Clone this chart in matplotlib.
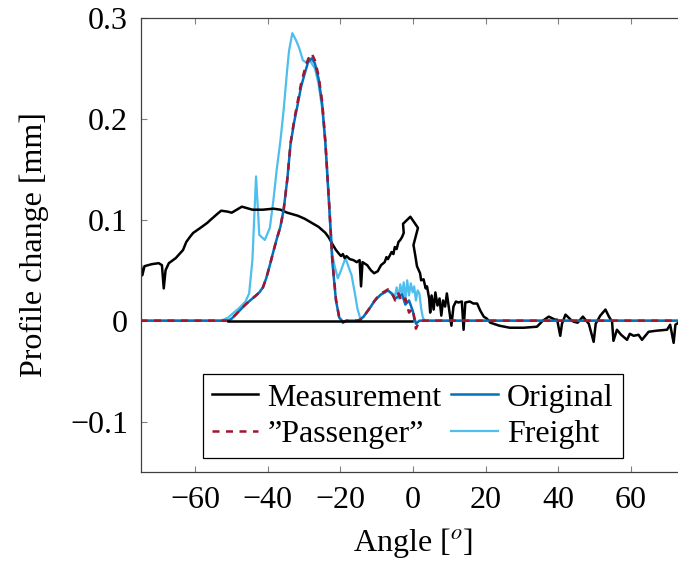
import matplotlib
matplotlib.use("Agg")
import matplotlib.pyplot as plt

plt.rcParams['font.family'] = ['Liberation Serif', 'DejaVu Serif']
plt.rcParams['mathtext.fontset'] = 'stix'
plt.rcParams['font.size'] = 23

# measured profile change
meas_angle = [-75, -74.5, -73.9, -71.9, -70.0, -69.1, -68.6, -68.1, -67.2, -65.3, -63.3,
              -62.4, -61.4, -60.5, -58.5, -56.6, -55.7, -53.8, -52.8, -50.9, -49.9,
              -48.0, -47.1, -46.1, -44.2, -41.3, -38.4, -36.5, -34.6, -31.7, -29.8,
              -27.9, -26.0, -24.1, -23.1, -22.2, -21.2, -20.3, -19.8, -19.3, -18.8,
              -18.3, -17.4, -16.4, -15.5, -14.7, -14.3, -13.9, -12.6, -11.6, -10.7,
              -9.7, -8.8, -7.8, -7.3, -6.9, -5.9, -5.4, -5.0, -4.5, -4.0, -3.5, -3.0,
              -2.55, -2.74, -0.73, 1.37, 0.13, 0.61, 1.09, 1.95, 2.24, 2.91, 3.48,
              3.86, 4.44, 4.73, 5.11, 5.68, 6.16, 6.74, 7.31, 7.79, 8.27, 8.84, 9.32,
              9.9, 10.57, 11.14, 11.81, 12.48, 13.44, 13.92, 14.4, 15.64, 16.6, 17.65,
              18.51, 19.47, 20.33, 21.29, 23.78, 26.64, 30.48, 34.11, 35.74, 37.37,
              39.09, 39.67, 40.53, 41.01, 41.97, 43.4, 44.17, 45.32, 46.75, 48.38,
              49.72, 50.29, 51.54, 52.97, 53.93, 54.79, 55.17, 56.13, 57.28, 58.91,
              59.68, 60.73, 62.07, 63.03, 64.84, 66.86, 69.92, 70.78, 71.74, 72.22,
              73.08, 75]
meas_val = [0.058, 0.045, 0.054, 0.056, 0.057, 0.055, 0.032, 0.05, 0.057, 0.062, 0.07,
            0.078, 0.083, 0.087, 0.092, 0.097, 0.1, 0.106, 0.109, 0.108, 0.107, 0.111,
            0.113, 0.112, 0.11, 0.11, 0.111, 0.11, 0.107, 0.104, 0.101, 0.097, 0.093,
            0.087, 0.082, 0.076, 0.07, 0.066, 0.064, 0.066, 0.062, 0.064, 0.061, 0.06,
            0.058, 0.06, 0.034, 0.058, 0.055, 0.05, 0.047, 0.049, 0.055, 0.058, 0.063,
            0.061, 0.068, 0.066, 0.073, 0.071, 0.078, 0.08, 0.083, 0.087, 0.096, 0.103,
            0.092, 0.075, 0.065, 0.054, 0.047, 0.04, 0.041, 0.032, 0.034, 0.022, 0.008,
            0.025, 0.011, 0.028, 0.015, 0.022, 0.005, 0.02, 0.014, 0.027, 0.012,
            -0.005, 0.014, 0.019, 0.018, 0.019, -0.009, 0.018, 0.019, 0.017, 0.017,
            0.01, 0.004, 0.002, -0.002, -0.005, -0.007, -0.007, -0.006, 0.0, 0.004,
            0.001, 0.001, -0.015, -0.003, 0.006, 0.001, -0.001, -0.002, 0.004, -0.003,
            -0.021, -0.003, 0.005, 0.011, 0.004, -0.001, -0.02, -0.009, -0.014, -0.019,
            -0.013, -0.015, -0.014, -0.019, -0.011, -0.01, -0.009, -0.004, -0.022,
            -0.004, -0.002, -0.002]

# model results
model_angle = [-75, -50.9, -49.9, -48.0, -46.1, -44.2, -43.2, -42.3, -41.3, -40.4,
               -39.4, -38.4, -37.5, -36.5, -35.6, -34.6, -33.7, -32.7, -31.7, -30.8,
               -29.8, -28.9, -27.9, -27.0, -26.0, -25.0, -24.1, -23.1, -22.2, -21.2,
               -20.3, -19.3, -18.3, -17.4, -16.4, -15.5, -14.5, -13.6, -12.6, -11.6,
               -10.7, -9.7, -8.8, -7.8, -6.9, -5.9, -4.9, -4.0, -3.0, -2.1, -1.1, -0.1,
               0.8, 1.8, 75]
original_val = [0, 0, 0.002, 0.009, 0.016, 0.022, 0.025, 0.028, 0.033, 0.042, 0.055,
                0.069, 0.081, 0.093, 0.11, 0.14, 0.175, 0.197, 0.215, 0.232, 0.245,
                0.256, 0.26, 0.255, 0.24, 0.215, 0.175, 0.115, 0.058, 0.02, 0.003,
                -0.001, 0, 0, 0, 0, 0.001, 0.004, 0.009, 0.014, 0.019, 0.023, 0.026,
                0.028, 0.03, 0.027, 0.022, 0.024, 0.026, 0.016, 0.02, 0.01, -0.003, 0, 0]
passenger_val = [0, 0, 0.002, 0.009, 0.016, 0.022, 0.025, 0.028, 0.033, 0.042, 0.055,
                 0.069, 0.081, 0.093, 0.11, 0.14, 0.176, 0.199, 0.218, 0.235, 0.249,
                 0.259, 0.265, 0.258, 0.243, 0.217, 0.177, 0.117, 0.06, 0.021, 0.003,
                 -0.002, 0, 0, 0, 0, 0.001, 0.004, 0.009, 0.014, 0.019, 0.024, 0.027,
                 0.029, 0.031, 0.028, 0.02, 0.027, 0.018, 0.022, 0.008, 0.012, -0.008, 0, 0]

freight_angle = [-75, -52.8, -50.9, -49.0, -48.0, -46.1, -45.1, -44.2, -43.2, -42.3,
                 -40.8, -39.4, -38.4, -37.5, -36.5, -35.6, -34.6, -34.1, -33.2, -32.2,
                 -31.3, -30.3, -29.4, -28.4, -27.0, -26.0, -25.0, -24.1, -23.1, -22.2,
                 -21.5, -20.7, -19.8, -18.6, -17.9, -16.9, -15.9, -15.3, -14.5, -13.6,
                 -12.6, -11.6, -10.7, -9.7, -8.8, -7.8, -6.9, -5.9, -4.9, -4.5, -4.0,
                 -3.5, -3.0, -2.55, -2.1, -1.6, -1.1, -0.6, -0.1, 0.32, 0.8, 1.28, 1.76,
                 2.24, 2.72, 3.2, 75]
freight_val = [0, 0, 0.003, 0.009, 0.012, 0.019, 0.027, 0.06, 0.143, 0.085, 0.08, 0.092,
               0.12, 0.15, 0.178, 0.209, 0.25, 0.268, 0.285, 0.278, 0.27, 0.258, 0.256,
               0.258, 0.25, 0.235, 0.21, 0.175, 0.12, 0.065, 0.053, 0.042, 0.05, 0.062,
               0.055, 0.045, 0.025, 0.012, 0.002, 0.004, 0.009, 0.014, 0.019, 0.023,
               0.026, 0.028, 0.03, 0.027, 0.025, 0.033, 0.022, 0.036, 0.025, 0.038,
               0.02, 0.04, 0.025, 0.037, 0.028, 0.034, 0.02, 0.03, 0.027, 0.012, 0.003,
               0, 0]

zero_angle = [-51, -0.3]
zero_val = [0, 0]

fig = plt.figure(figsize=(6.78, 5.61), dpi=100)
ax = fig.add_axes([140.5 / 678, 89 / 561, 545 / 678, 454 / 561])

ax.plot(meas_angle, meas_val, color='black', lw=1.8, zorder=2.5, label='Measurement')
ax.plot(freight_angle, freight_val, color='#4DBEEE', lw=1.6, zorder=2, label='Freight')
ax.plot(model_angle, original_val, color='#0072BD', lw=1.8, zorder=3, label='Original')
ax.plot(model_angle, passenger_val, color='#A2142F', lw=1.8, zorder=4,
        dashes=(2.8, 2.6), label='\u201dPassenger\u201d')
ax.plot(zero_angle, zero_val, color='black', lw=1.8, zorder=5)

ax.set_xlim(-75, 75)
ax.set_ylim(-0.15, 0.3)
ax.set_xticks([-60, -40, -20, 0, 20, 40, 60])
ax.set_yticks([-0.1, 0, 0.1, 0.2, 0.3])
ax.set_yticklabels(['\u22120.1', '0', '0.1', '0.2', '0.3'])
ax.tick_params(direction='in', length=4, width=0.8, color='#808080',
               top=True, right=True, pad=9)
ax.tick_params(axis='x', pad=10)
for s in ax.spines.values():
    s.set_color('#404040')
    s.set_linewidth(0.9)

ax.set_xlabel('Angle [$^o$]', labelpad=8)
ax.set_ylabel('Profile change [mm]', labelpad=15)

h, l = ax.get_legend_handles_labels()
order = [l.index('Measurement'), l.index('\u201dPassenger\u201d'),
         l.index('Original'), l.index('Freight')]
leg = ax.legend([h[i] for i in order], [l[i] for i in order], ncol=2,
                loc='lower center', bbox_to_anchor=(0.4995, 0.031), borderaxespad=0,
                fancybox=False, framealpha=1, edgecolor='black', handlelength=1.45,
                handletextpad=0.3, columnspacing=0.3, labelspacing=0.22,
                borderpad=0.28)
leg.get_frame().set_linewidth(0.9)

fig.savefig('out.png', dpi=100)
